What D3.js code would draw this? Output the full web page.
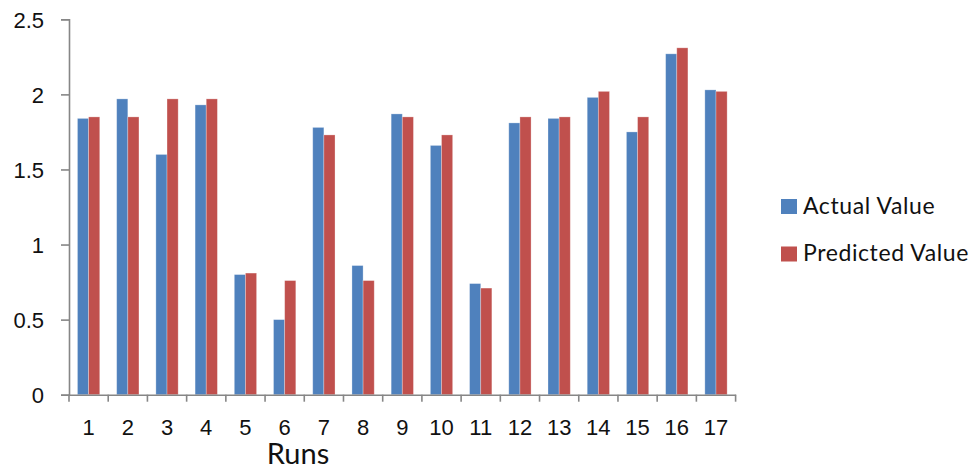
<!DOCTYPE html>
<html>
<head>
<meta charset="utf-8">
<script src="https://cdn.jsdelivr.net/npm/d3@7"></script>
<style>
  html, body { margin: 0; padding: 0; background: #fff; }
  svg { display: block; font-family: Lato, "Open Sans", sans-serif; }
</style>
</head>
<body>
<svg id="chart" width="976" height="468"></svg>
<script>
// Runs and their measured / model values
const runs = ["1","2","3","4","5","6","7","8","9","10","11","12","13","14","15","16","17"];
const seriesNames = ["Actual Value", "Predicted Value"];
const actualValues    = [1.84, 1.97, 1.60, 1.93, 0.80, 0.50, 1.78, 0.86, 1.87, 1.66, 0.74, 1.81, 1.84, 1.98, 1.75, 2.27, 2.03];
const predictedValues = [1.85, 1.85, 1.97, 1.97, 0.81, 0.76, 1.73, 0.76, 1.85, 1.73, 0.71, 1.85, 1.85, 2.02, 1.85, 2.31, 2.02];
const yTicks = [0, 0.5, 1, 1.5, 2, 2.5];
const yTickLabels = ["0", "0.5", "1", "1.5", "2", "2.5"];
const xTitle = "Runs";

const colors = { "Actual Value": "#4F81BD", "Predicted Value": "#C0504D" };
const axisColor = "#868686";

const svg = d3.select("#chart");
const plot = { left: 69, right: 735.6, top: 19.3, bottom: 394.7 };

const x = d3.scaleBand().domain(runs).range([plot.left, plot.right]).padding(0);
const xs = d3.scaleBand().domain(seriesNames).range([0, x.bandwidth()])
  .paddingInner(0).paddingOuter(0.76);
const y = d3.scaleLinear().domain([0, 2.5]).range([plot.bottom, plot.top]);

const rows = runs.map((r, i) => ({
  run: r,
  values: [
    { name: seriesNames[0], v: actualValues[i] },
    { name: seriesNames[1], v: predictedValues[i] }
  ]
}));

// Bars
const groups = svg.append("g").selectAll("g").data(rows).join("g")
  .attr("transform", d => `translate(${x(d.run)},0)`);
groups.selectAll("rect").data(d => d.values).join("rect")
  .attr("x", d => xs(d.name))
  .attr("y", d => y(d.v))
  .attr("width", xs.bandwidth())
  .attr("height", d => y(0) - y(d.v))
  .attr("fill", d => colors[d.name])
  .attr("stroke", "rgba(255,255,255,0.35)")
  .attr("stroke-width", 0.8);

// Y axis
const yAxis = svg.append("g")
  .attr("transform", `translate(${plot.left},0)`)
  .call(d3.axisLeft(y).tickValues(yTicks)
    .tickFormat((d, i) => yTickLabels[i]).tickSize(8).tickPadding(17));
yAxis.select(".domain").attr("stroke", axisColor).attr("stroke-width", 1.6);
yAxis.selectAll(".tick line").attr("stroke", axisColor).attr("stroke-width", 1.6);
yAxis.selectAll(".tick text")
  .attr("fill", "#111").style("font-size", "22px").attr("dy", "0.36em");

// X axis: labels centred under each run, tick marks on slot boundaries
const xAxis = svg.append("g")
  .attr("transform", `translate(0,${plot.bottom})`)
  .call(d3.axisBottom(x).tickSize(0).tickPadding(25));
xAxis.select(".domain").attr("stroke", axisColor).attr("stroke-width", 1.6);
xAxis.selectAll(".tick text")
  .attr("fill", "#111").style("font-size", "22px");

const boundaries = runs.map(r => x(r)).concat([x(runs[runs.length - 1]) + x.bandwidth()]);
xAxis.selectAll("line.slot").data(boundaries).join("line")
  .attr("class", "slot")
  .attr("x1", d => d).attr("x2", d => d)
  .attr("y1", 0).attr("y2", 7)
  .attr("stroke", axisColor).attr("stroke-width", 1.6);

// Axis title
svg.append("text")
  .attr("x", 298).attr("y", 464)
  .attr("text-anchor", "middle")
  .attr("fill", "#111")
  .style("font-size", "29px")
  .text(xTitle);

// Legend
const legend = svg.append("g").attr("transform", "translate(781,199)");
const items = legend.selectAll("g").data(seriesNames).join("g")
  .attr("transform", (d, i) => `translate(0,${i * 47.5})`);
items.append("rect")
  .attr("width", 16).attr("height", 15)
  .attr("fill", d => colors[d]);
items.append("text")
  .attr("x", 22).attr("y", 14.5)
  .attr("fill", "#111")
  .style("font-size", "23px")
  .style("letter-spacing", "0.6px")
  .text(d => d);
</script>
</body>
</html>
